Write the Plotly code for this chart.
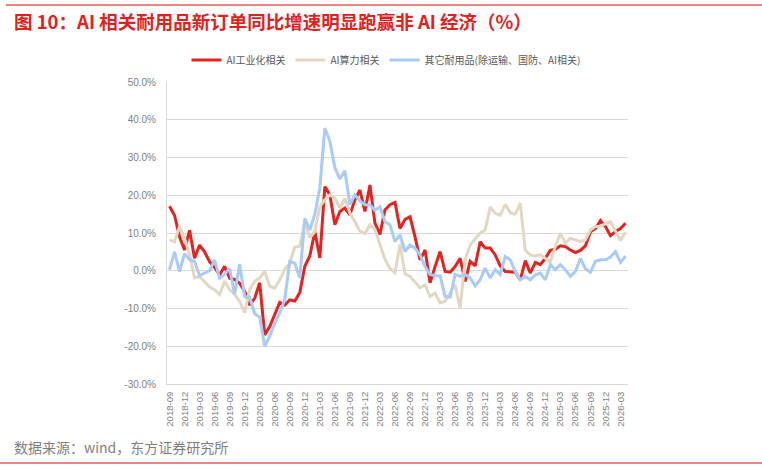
import plotly.graph_objects as go
import pandas as pd

# ---------------- data ----------------
months = [p.strftime("%Y-%m") for p in pd.period_range("2018-09", "2026-04", freq="M")]

ai_industrial = [
    17.1, 14.7, 9.0, 5.5, 10.7, 3.3, 6.8, 5.0, 2.4, 0.9,
    -1.1, 1.2, -2.0, -2.3, -3.3, -5.5, -9.1, -7.3, -3.2, -17.0,
    -14.8, -11.7, -8.4, -9.1, -7.7, -8.0, -5.8, 1.2, 3.9, 10.4,
    3.4, 22.3, 20.1, 12.2, 15.7, 16.6, 14.8, 18.8, 21.4, 15.7,
    22.7, 12.6, 9.6, 16.1, 17.5, 18.1, 11.2, 13.6, 14.3, 9.0,
    2.9, 5.5, -3.2, 1.1, 5.1, -0.2, -0.4, 1.1, 3.3, -2.8,
    2.5, 1.3, 7.7, 6.0, 6.0, 4.2, 1.3, -0.2, -0.2, -0.4,
    -2.4, 2.7, -0.6, 2.2, 1.6, 3.3, 5.4, 5.7, 6.6, 6.4,
    5.5, 4.8, 5.4, 6.6, 10.3, 11.2, 13.3, 11.7, 9.3, 10.4,
    11.2, 12.6,
]

ai_compute = [
    8.2, 7.7, 11.7, 8.6, 4.2, -1.9, -1.5, -2.8, -4.3, -5.0,
    -6.3, -2.8, -5.0, -6.3, -8.1, -11.1, -5.0, -2.8, -1.9, -0.2,
    -4.1, -4.6, -2.4, 0.4, 2.0, 6.3, 6.5, 13.0, 8.7, 10.4,
    17.0, 18.8, 20.1, 19.2, 16.6, 19.2, 15.3, 13.0, 10.5, 9.8,
    12.2, 11.0, 7.0, 3.0, 0.6, -0.5, 7.0, -0.8, -1.5, -3.0,
    -4.5, -3.8, -6.8, -5.9, -8.5, -8.1, -5.9, -3.7, -9.9, 2.9,
    6.8, 8.5, 10.0, 10.8, 16.9, 15.2, 14.7, 17.6, 15.4, 15.0,
    17.9, 5.5, 4.2, 3.9, 4.2, 3.3, 2.3, 6.4, 9.9, 7.3,
    8.6, 8.2, 7.7, 8.2, 10.8, 11.7, 11.8, 12.5, 13.0, 10.5,
    8.0, 10.2,
]

other_durables = [
    0.3, 5.0, -0.2, 4.5, 3.0, 2.5, -1.3, -0.7, 0.0, 2.9,
    -2.0, -1.0, 0.6, -6.3, 1.8, -6.8, -7.0, -11.4, -12.3, -20.0,
    -17.3, -14.0, -11.2, -7.6, 2.5, 2.0, -1.9, 13.9, 10.8, 15.0,
    22.0, 37.8, 34.3, 27.3, 24.3, 26.5, 17.5, 20.1, 18.5, 17.5,
    17.5, 16.0, 17.0, 13.0, 12.2, 7.7, 9.5, 5.1, 6.8, 6.0,
    4.2, 1.1, -1.0, -1.3, -1.3, -6.8, -7.0, -1.0, -1.5, -1.0,
    -1.9, -4.0, -2.4, 0.7, -1.9, 0.3, -1.0, 3.8, 2.9, -0.2,
    -2.4, -1.5, -2.4, -1.1, -0.6, -2.4, 1.6, 0.3, 1.6, 0.3,
    -1.5, -0.2, 3.3, 0.5, -0.4, 2.5, 2.9, 2.9, 3.6, 5.1,
    2.2, 3.9,
]

series_names = ["AI工业化相关", "AI算力相关", "其它耐用品(除运输、国防、AI相关)"]
series_colors = ["#E5231E", "#E2D8C2", "#A8CBFA"]

y_tick_vals = [50, 40, 30, 20, 10, 0, -10, -20, -30]
y_tick_text = ["50.0%", "40.0%", "30.0%", "20.0%", "10.0%", "0.0%", "-10.0%", "-20.0%", "-30.0%"]
x_tick_labels = months[::3]

title_text = "图 10：AI 相关耐用品新订单同比增速明显跑赢非 AI 经济（%）"
source_text = "数据来源：wind，东方证券研究所"

# ---------------- layout geometry ----------------
W, H = 762, 470
L, R, T, B = 167, 134, 82, 86
PW, PH = W - L - R, H - T - B


def px_x(px):
    return (px - L) / PW


def px_y(py):
    return 1 - (py - T) / PH


CJK = "Noto Sans CJK SC, Microsoft YaHei, sans-serif"
NUM = "Liberation Sans, Arial, sans-serif"
GRID = "#D9D9D9"

fig = go.Figure()
for name, vals, col in zip(series_names, [ai_industrial, ai_compute, other_durables], series_colors):
    fig.add_trace(go.Scatter(
        x=months, y=vals, name=name, mode="lines",
        line=dict(color=col, width=3), xaxis="x", yaxis="y",
    ))

n = len(months)
fig.update_layout(
    width=W, height=H,
    margin=dict(l=L, r=R, t=T, b=B, pad=0),
    paper_bgcolor="white", plot_bgcolor="white",
    showlegend=True,
    legend=dict(
        orientation="h", x=px_x(386), y=px_y(60), xanchor="center", yanchor="middle",
        font=dict(family=CJK, size=10, color="#595959"),
        itemwidth=30, tracegroupgap=0, bgcolor="rgba(0,0,0,0)",
    ),
    xaxis=dict(
        type="category", range=[-0.5, n - 0.5], categoryorder="array", categoryarray=months,
        tickmode="array", tickvals=x_tick_labels, ticktext=x_tick_labels,
        tickangle=-90, showgrid=False, ticks="", zeroline=False,
        showline=True, linecolor=GRID, linewidth=1,
        tickfont=dict(family=NUM, size=9.5, color="#7F7F7F"),
        ticklabelstandoff=3,
    ),
    xaxis2=dict(
        type="linear", overlaying="x", anchor="y", range=[-0.5, n - 0.5],
        tickmode="array", tickvals=[k - 0.5 for k in range(0, n, 3)],
        showgrid=True, gridcolor=GRID, gridwidth=1, showticklabels=False,
        ticks="", zeroline=False, showline=False, side="bottom",
    ),
    yaxis=dict(
        range=[-30, 50], tickmode="array", tickvals=y_tick_vals, ticktext=y_tick_text,
        showgrid=True, gridcolor=GRID, gridwidth=1, zeroline=False,
        showline=True, linecolor=GRID, linewidth=1, ticks="",
        tickfont=dict(family=NUM, size=10, color="#7F7F7F"),
        ticklabelstandoff=8,
    ),
    annotations=[
        dict(text=title_text, xref="paper", yref="paper", x=px_x(12), y=px_y(21),
             xanchor="left", yanchor="middle", showarrow=False,
             font=dict(family=CJK, size=18.5, color="#E3211C", weight="bold")),
        dict(text=source_text, xref="paper", yref="paper", x=px_x(12), y=px_y(447),
             xanchor="left", yanchor="middle", showarrow=False,
             font=dict(family=CJK, size=14, color="#7F7F7F")),
    ],
    shapes=[
        dict(type="line", xref="paper", yref="paper", x0=px_x(6), x1=px_x(762),
             y0=px_y(5), y1=px_y(5), line=dict(color="#EA5A56", width=1.5)),
        dict(type="line", xref="paper", yref="paper", x0=px_x(0), x1=px_x(762),
             y0=px_y(463), y1=px_y(463), line=dict(color="#EA5A56", width=1.5)),
    ],
)

fig.write_html("out.html")
